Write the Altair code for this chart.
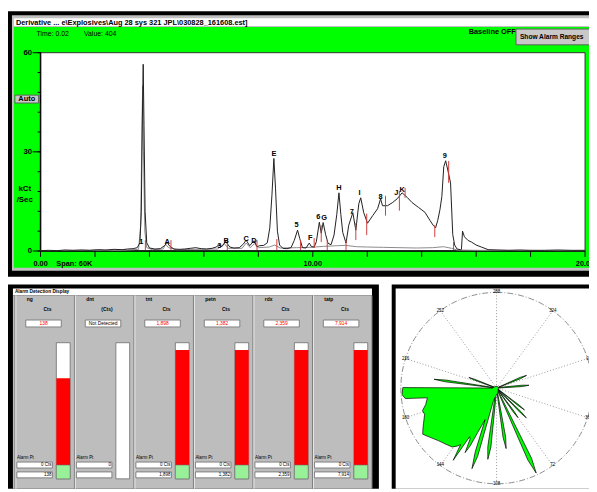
import altair as alt
import pandas as pd

FONT = "Liberation Sans"

# ---------------- spectrum data (time in min, kCt/Sec) ----------------
trace_t = [0.0, 0.3, 0.6, 0.9, 1.2, 1.5, 1.8, 2.1, 2.4, 2.7,
           3.0, 3.2, 3.4, 3.55, 3.65, 3.70, 3.74, 3.77, 3.80, 3.84,
           3.90, 4.0, 4.2, 4.4, 4.55, 4.65, 4.75, 4.9, 5.1, 5.3,
           5.5, 5.7, 5.9, 6.1, 6.3, 6.45, 6.57, 6.66, 6.8, 6.95,
           7.1, 7.3, 7.45, 7.55, 7.68, 7.84, 7.95, 8.05, 8.2, 8.33,
           8.42, 8.5, 8.57, 8.63, 8.7, 8.78, 8.9, 9.05, 9.2, 9.32,
           9.44, 9.52, 9.62, 9.75, 9.87, 9.95, 10.05, 10.13, 10.24, 10.31,
           10.38, 10.47, 10.56, 10.67, 10.78, 10.88, 10.96, 11.03, 11.1, 11.22,
           11.32, 11.47, 11.58, 11.69, 11.76, 11.87, 12.01, 12.2, 12.38, 12.49,
           12.56, 12.74, 12.92, 13.1, 13.28, 13.47, 13.64, 13.88, 14.12, 14.3,
           14.42, 14.51, 14.59, 14.67, 14.74, 14.81, 14.88, 14.95, 15.06, 15.14,
           15.21, 15.3, 15.42, 15.46, 15.5, 15.57, 15.7, 15.83, 16.0, 16.19,
           16.44, 16.8, 17.2, 17.6, 18.0, 18.5, 19.0, 19.5, 20.0]
trace_v = [0.1, 0.2, 0.1, 0.3, 0.2, 0.3, 0.2, 0.4, 0.3, 0.5,
           0.4, 0.6, 0.7, 1.0, 2.5, 12, 40, 56.5, 38, 12,
           2.5, 0.9, 0.6, 0.7, 1.6, 2.6, 1.4, 0.6, 0.5, 0.6,
           0.8, 1.0, 0.7, 0.6, 0.8, 1.2, 2.0, 1.3, 2.9, 1.2,
           0.9, 1.0, 2.1, 3.3, 1.6, 3.1, 1.3, 1.6, 1.7, 2.5,
           7, 17, 28, 19, 6, 1.8, 0.8, 0.7, 1.0, 3.2,
           6.3, 3.8, 1.0, 0.9, 2.4, 1.3, 1.2, 2.8, 8.7, 5.4,
           8.6, 5.0, 2.3, 1.9, 4.8, 11, 17.6, 11, 5.6, 2.4,
           7.8, 11.6, 6.3, 14.3, 16.1, 11.6, 8.4, 10.7, 12.8, 15.8,
           13.7, 13.7, 14.6, 15.8, 17.6, 16.2, 14.7, 13.2, 11.7, 9.3,
           7.8, 7.0, 9.3, 12.5, 16.5, 25.5, 27.3, 24.8, 20.6, 5.0,
           1.8, 0.6, 0.4, 0.5, 6.0, 4.3, 3.2, 2.7, 1.8, 1.2,
           0.4, 0.3, 0.2, 0.3, 0.2, 0.2, 0.3, 0.2, 0.2]

gray_t = [0.0, 1.5, 3.0, 3.6, 3.68, 3.72, 3.75, 3.78, 3.83, 3.9,
          4.1, 4.5, 4.6, 4.7, 5.0, 6.5, 6.75, 6.9, 7.4, 7.55,
          7.7, 7.85, 8.0, 8.4, 8.6, 8.8, 9.4, 9.9, 10.4, 10.9,
          11.2, 11.6, 12.0, 12.6, 13.2, 13.8, 14.4, 14.8, 15.1, 15.3,
          16.0, 20.0]
gray_v = [0.1, 0.2, 0.2, 0.5, 8, 35, 50, 30, 6, 1.0,
          0.4, 0.6, 2.0, 1.0, 0.4, 0.6, 2.2, 0.8, 0.8, 2.4,
          1.0, 2.2, 1.0, 1.2, 1.8, 0.9, 1.0, 1.1, 1.4, 1.6,
          1.7, 1.3, 1.2, 1.1, 1.0, 0.9, 1.0, 1.3, 0.8, 0.3,
          0.2, 0.1]

marker_t = [3.85, 4.79, 6.86, 7.95, 8.68, 9.55, 10.05, 10.31, 10.53, 11.22,
            11.58, 11.98, 12.67, 13.18, 13.39, 14.48, 14.99, 15.17]
marker_lo = [0.3, 0.3, 0.3, 0.3, 0.3, 0.3, 0.9, 2.7, 0.3, 0.3,
             3.3, 4.8, 10.7, 12.2, 16.1, 4.2, 20.6, 0.3]
marker_hi = [3.3, 3.3, 3.6, 3.3, 3.6, 3.3, 3.9, 7.8, 3.3, 3.3,
             8.4, 11.3, 16.7, 18.2, 19.1, 7.8, 27.2, 2.7]

peak_names = ["1", "A", "3", "B", "C", "D", "E", "5", "F", "6", "G", "H", "7", "I", "8", "J", "K", "9"]
peak_t = [3.70, 4.65, 6.57, 6.82, 7.55, 7.84, 8.57, 9.40, 9.91, 10.20, 10.42, 10.96, 11.43, 11.72, 12.49, 13.07, 13.28, 14.85]
peak_v = [2.7, 2.7, 1.5, 3.0, 3.6, 3.0, 29.3, 7.8, 3.9, 10.4, 10.1, 19.1, 11.9, 17.6, 16.4, 17.6, 18.5, 28.7]

y_minor_ticks = [0, 6, 12, 18, 24, 30, 36, 42, 48, 54, 60]
y_major_ticks = [0, 30, 60]
y_major_labels = ["0", "30", "60"]
x_ticks = [0, 2, 4, 6, 8, 10, 12, 14, 16, 18, 20]
x_label_at = [0, 10, 20]
x_labels = ["0.00", "10.00", "20.00"]

# ---------------- alarm display data ----------------
detectors = ["ng", "dnt", "tnt", "petn", "rdx", "tatp"]
units = ["Cts", "(Cts)", "Cts", "Cts", "Cts", "Cts"]
readings = ["138", "Not Detected", "1,898", "1,382", "2,359", "7,914"]
levels = [0.71, 0.0, 0.94, 0.94, 0.94, 0.94]
alarm_pts = ["0 Cts", "0", "0 Cts", "0 Cts", "0 Cts", "0 Cts"]
last_counts = ["138", "", "1,898", "1,382", "2,359", "7,914"]
armed = [True, False, True, True, True, True]

# ---------------- polar data (deg clockwise from the "0" spoke, radius % of full scale) ----------------
polar_deg = [0, 11.5, 13, 14.5, 16,
             54, 55, 56, 57, 58,
             61, 62, 63, 64, 65,
             70, 71, 72, 73, 74,
             80, 81.5, 83, 84.5, 86,
             96, 97.5, 99, 100.5, 102,
             112, 113.5, 115, 116.5, 118,
             122, 123.5, 125, 126.5, 128,
             131, 132.5, 134, 135.5, 137, 139, 140.5, 142,
             145, 150, 156, 161, 166, 169, 172, 178, 181, 185, 190,
             191.5, 194, 198.3, 198.6,
             204, 205, 206, 207, 208,
             217, 218, 219, 220, 221,
             300, 352, 353.5, 355, 356.5, 358]
polar_r = [2, 27, 34, 27, 2,
           2, 30, 37, 30, 2,
           3, 36, 44, 36, 3,
           3, 31, 38, 31, 3,
           4, 82, 98, 82, 4,
           5, 52, 64, 52, 6,
           8, 62, 75, 62, 10,
           14, 74, 88, 70, 35,
           50, 66, 75, 60, 58, 88, 70, 73,
           77, 79, 82, 86, 91, 88, 85, 80, 81, 76, 73,
           96, 99, 98, 4,
           4, 54, 66, 54, 4,
           3, 25, 31, 25, 3,
           2, 2, 27, 34, 27, 2]
spoke_deg = [0, 36, 72, 108, 144, 180, 216, 252, 288, 324]
spoke_labels = ["0", "36", "72", "108", "144", "180", "216", "252", "288", "324"]

# ---------------- helpers ----------------
ONE = pd.DataFrame({"k": [0]})


def box(x1, x2, y1, y2, fill, stroke=None, sw=1.0):
    props = {"fill": fill, "strokeWidth": sw if stroke else 0}
    if stroke:
        props["stroke"] = stroke
    return alt.Chart(ONE).mark_rect(**props).encode(
        x=alt.value(x1), x2=alt.value(x2), y=alt.value(y1), y2=alt.value(y2))


def rule(x1, x2, y1, y2, color, sw=1.0):
    return alt.Chart(ONE).mark_rule(color=color, strokeWidth=sw).encode(
        x=alt.value(x1), x2=alt.value(x2), y=alt.value(y1), y2=alt.value(y2))


def label(x, y, text, size=8.0, bold=False, align="left", color="black"):
    return alt.Chart(ONE).mark_text(
        text=text, font=FONT, fontSize=size, fontWeight="bold" if bold else "normal",
        align=align, baseline="middle", color=color).encode(x=alt.value(x), y=alt.value(y))


layers = []

# ================= top panel =================
SX = alt.Scale(domain=[0, 20], range=[33, 585], nice=False, zero=False)
SY = alt.Scale(domain=[0, 60], range=[243, 42], nice=False, zero=False)

layers += [
    box(0, 589, 0, 269, "black"),
    box(4, 589, 4, 263, "#c0c0c0"),
    box(6, 589, 7, 15, "white"),
    box(6, 589, 16, 260, "#00ff00"),
    box(33, 585, 42, 243, "white", stroke="#303030", sw=1),
    label(8, 11.5, r"Derivative ... e\Explosives\Aug 28 sys 321 JPL\030828_161608.est]", 7.5, True),
    label(29, 23, "Time:  0.02", 7),
    label(77, 23, "Value:  404", 7),
    label(467, 21, "Baseline OFF", 7.5, True),
    box(515, 596, 18, 34, "#c8c8c8", stroke="#606060", sw=1),
    label(519, 26.5, "Show Alarm Ranges", 6.7, True),
    box(7, 31, 85, 93, "#c8c8c8", stroke="#606060", sw=1),
    label(19, 89, "Auto", 7.5, True, "center"),
    label(17, 180, "kCt", 8, True, "center"),
    label(17, 191, "/Sec", 8, True, "center"),
    label(49, 256, "Span: 60K", 7.5, True),
]

ymin_df = pd.DataFrame({"v": y_minor_ticks})
ymaj_df = pd.DataFrame({"v": y_major_ticks, "lab": y_major_labels})
xt_df = pd.DataFrame({"t": x_ticks})
xl_df = pd.DataFrame({"t": x_label_at, "lab": x_labels})

layers += [
    alt.Chart(ymin_df).mark_rule(color="black", strokeWidth=1).encode(
        y=alt.Y("v:Q", scale=SY, axis=None), x=alt.value(30), x2=alt.value(33)),
    alt.Chart(ymaj_df).mark_rule(color="black", strokeWidth=1).encode(
        y=alt.Y("v:Q", scale=SY, axis=None), x=alt.value(25), x2=alt.value(33)),
    alt.Chart(ymaj_df).mark_text(font=FONT, fontSize=8, fontWeight="bold", align="right",
                                 baseline="middle").encode(
        y=alt.Y("v:Q", scale=SY, axis=None), x=alt.value(24.5), text="lab:N"),
    alt.Chart(xt_df).mark_rule(color="black", strokeWidth=1).encode(
        x=alt.X("t:Q", scale=SX, axis=None), y=alt.value(243), y2=alt.value(249)),
    alt.Chart(xl_df).mark_text(font=FONT, fontSize=7.5, fontWeight="bold", align="center",
                               baseline="middle").encode(
        x=alt.X("t:Q", scale=SX, axis=None), y=alt.value(256), text="lab:N"),
    rule(33, 33, 42, 243, "black", 1.5),
    rule(33, 585, 243, 243, "black", 1.5),
]

gray_df = pd.DataFrame({"t": gray_t, "v": gray_v})
trace_df = pd.DataFrame({"t": trace_t, "v": trace_v})
mk_df = pd.DataFrame({"t": marker_t, "lo": marker_lo, "hi": marker_hi})
pk_df = pd.DataFrame({"t": peak_t, "v": peak_v, "name": peak_names})

layers += [
    alt.Chart(gray_df).mark_line(color="#8a8a8a", strokeWidth=1).encode(
        x=alt.X("t:Q", scale=SX, axis=None), y=alt.Y("v:Q", scale=SY, axis=None)),
    alt.Chart(trace_df).mark_line(color="#202020", strokeWidth=1).encode(
        x=alt.X("t:Q", scale=SX, axis=None), y=alt.Y("v:Q", scale=SY, axis=None)),
    alt.Chart(mk_df).mark_rule(color="#d23c3c", strokeWidth=1).encode(
        x=alt.X("t:Q", scale=SX, axis=None), y=alt.Y("lo:Q", scale=SY, axis=None), y2="hi:Q"),
    alt.Chart(pk_df).mark_text(font=FONT, fontSize=7.5, fontWeight="bold", baseline="middle",
                               align="center").encode(
        x=alt.X("t:Q", scale=SX, axis=None), y=alt.Y("v:Q", scale=SY, axis=None), text="name:N"),
]

# ================= alarm detection display =================
CX = alt.Scale(domain=[0, 6], range=[7, 369], nice=False, zero=False)
LY = alt.Scale(domain=[0, 1], range=[460, 336], nice=False, zero=True)
alarm_df = pd.DataFrame({"idx": list(range(6)), "name": detectors, "unit": units,
                         "reading": readings, "level": levels, "alarm": alarm_pts,
                         "last": last_counts, "armed": armed})
cx = alt.X("idx:Q", scale=CX, axis=None)
cx2 = alt.X2("idx:Q")


def col_rect(x1, x2, y1, y2, fill, stroke=None, sw=0.8):
    props = {"fill": fill, "xOffset": x1, "x2Offset": x2, "strokeWidth": sw if stroke else 0}
    if stroke:
        props["stroke"] = stroke
    return alt.Chart(alarm_df).mark_rect(**props).encode(
        x=cx, x2=cx2, y=alt.value(y1), y2=alt.value(y2))


def col_text(dx, y, field, size=5.0, align="left", bold=False, color=None):
    props = dict(font=FONT, fontSize=size, dx=dx, align=align, baseline="middle",
                 fontWeight="bold" if bold else "normal")
    enc = dict(x=cx, y=alt.value(y), text=field)
    if color is not None:
        enc["color"] = color
    else:
        props["color"] = "black"
    return alt.Chart(alarm_df).mark_text(**props).encode(**enc)


layers += [
    box(0, 376, 277, 484, "black"),
    box(5, 369, 281, 288, "white"),
    box(5, 369, 288, 484, "#bdbdbd"),
    label(7, 284.5, "Alarm Detection Display", 4.8, True),
    alt.Chart(alarm_df).mark_rule(color="#7a7a7a", strokeWidth=1).encode(
        x=cx, y=alt.value(288), y2=alt.value(484)),
    alt.Chart(alarm_df).mark_rule(color="#e8e8e8", strokeWidth=1, xOffset=1).encode(
        x=cx, y=alt.value(288), y2=alt.value(484)),
    rule(369, 369, 288, 484, "#7a7a7a", 1),
    col_text(12, 292, "name:N", 5, "left", True),
    col_text(33, 302, "unit:N", 5, "center", True),
    col_rect(11, 47, 313, 320, "white", "#6a6a6a"),
    col_text(29, 316.5, "reading:N", 5, "center", False,
             alt.condition("datum.level > 0", alt.value("#ff0000"), alt.value("black"))),
    col_rect(42, 56, 336, 474, "white", "#6a6a6a"),
    alt.Chart(alarm_df).mark_rect(fill="#ff0000", xOffset=42, x2Offset=56, strokeWidth=0).encode(
        x=cx, x2=cx2, y=alt.Y("level:Q", scale=LY, axis=None), y2=alt.datum(0)),
    alt.Chart(alarm_df).transform_filter("datum.armed").mark_rect(
        fill="#98f098", stroke="#6a6a6a", strokeWidth=0.6, xOffset=42, x2Offset=56).encode(
        x=cx, x2=cx2, y=alt.value(460), y2=alt.value(474)),
    alt.Chart(alarm_df).mark_text(text="Alarm Pt", font=FONT, fontSize=4.5, dx=2, align="left",
                                  baseline="middle", color="black").encode(x=cx, y=alt.value(453)),
    col_rect(2, 38, 457, 463, "white", "#6a6a6a"),
    col_rect(2, 38, 467, 473, "white", "#6a6a6a"),
    col_text(37, 460, "alarm:N", 4.5, "right"),
    col_text(37, 470, "last:N", 4.5, "right"),
]

# ================= polar display =================
PX = alt.Scale(domain=[-1, 1], range=[398.3, 592.3], nice=False, zero=False)
PY = alt.Scale(domain=[-1, 1], range=[479, 285], nice=False, zero=False)
polar_df = pd.DataFrame({"i": list(range(len(polar_deg))), "deg": polar_deg, "r": polar_r})
spoke_df = pd.DataFrame({"deg": spoke_deg, "lab": spoke_labels})

spokes = alt.Chart(spoke_df).transform_calculate(
    phi="(18 - datum.deg) * PI / 180").transform_calculate(
    ex="cos(datum.phi)", ey="sin(datum.phi)", z="0")

poly = alt.Chart(polar_df).transform_calculate(
    phi="(18 - datum.deg) * PI / 180").transform_calculate(
    px="datum.r / 100 * cos(datum.phi)", py="datum.r / 100 * sin(datum.phi)"
).mark_line(interpolate="linear-closed", fill="#00ff00", stroke="black",
            strokeWidth=0.7).encode(
    x=alt.X("px:Q", scale=PX, axis=None), y=alt.Y("py:Q", scale=PY, axis=None),
    order=alt.Order("i:Q"))

layers += [
    box(389, 589, 277, 484, "black"),
    box(393, 589, 281, 484, "white"),
    alt.Chart(ONE).mark_arc(radius=97, theta=0, theta2=6.2832, filled=False, stroke="#707070",
                            strokeWidth=0.8, strokeDash=[6, 2, 1, 2]).encode(
        x=alt.value(495.3), y=alt.value(382)),
    spokes.mark_rule(color="#808080", strokeWidth=0.8, strokeDash=[1, 2]).encode(
        x=alt.X("z:Q", scale=PX, axis=None), y=alt.Y("z:Q", scale=PY, axis=None),
        x2="ex:Q", y2="ey:Q"),
    poly,
    spokes.mark_text(font=FONT, fontSize=4.5, baseline="middle", align="center",
                     color="black").encode(
        x=alt.X("ex:Q", scale=PX, axis=None), y=alt.Y("ey:Q", scale=PY, axis=None),
        text="lab:N"),
]

chart = alt.layer(*layers).resolve_scale(x="independent", y="independent").properties(
    width=589, height=484, autosize=alt.AutoSizeParams(type="none"), padding=0,
    background="white").configure_view(stroke=None)

chart.save("out.html", embed_options={"renderer": "svg", "actions": False})
